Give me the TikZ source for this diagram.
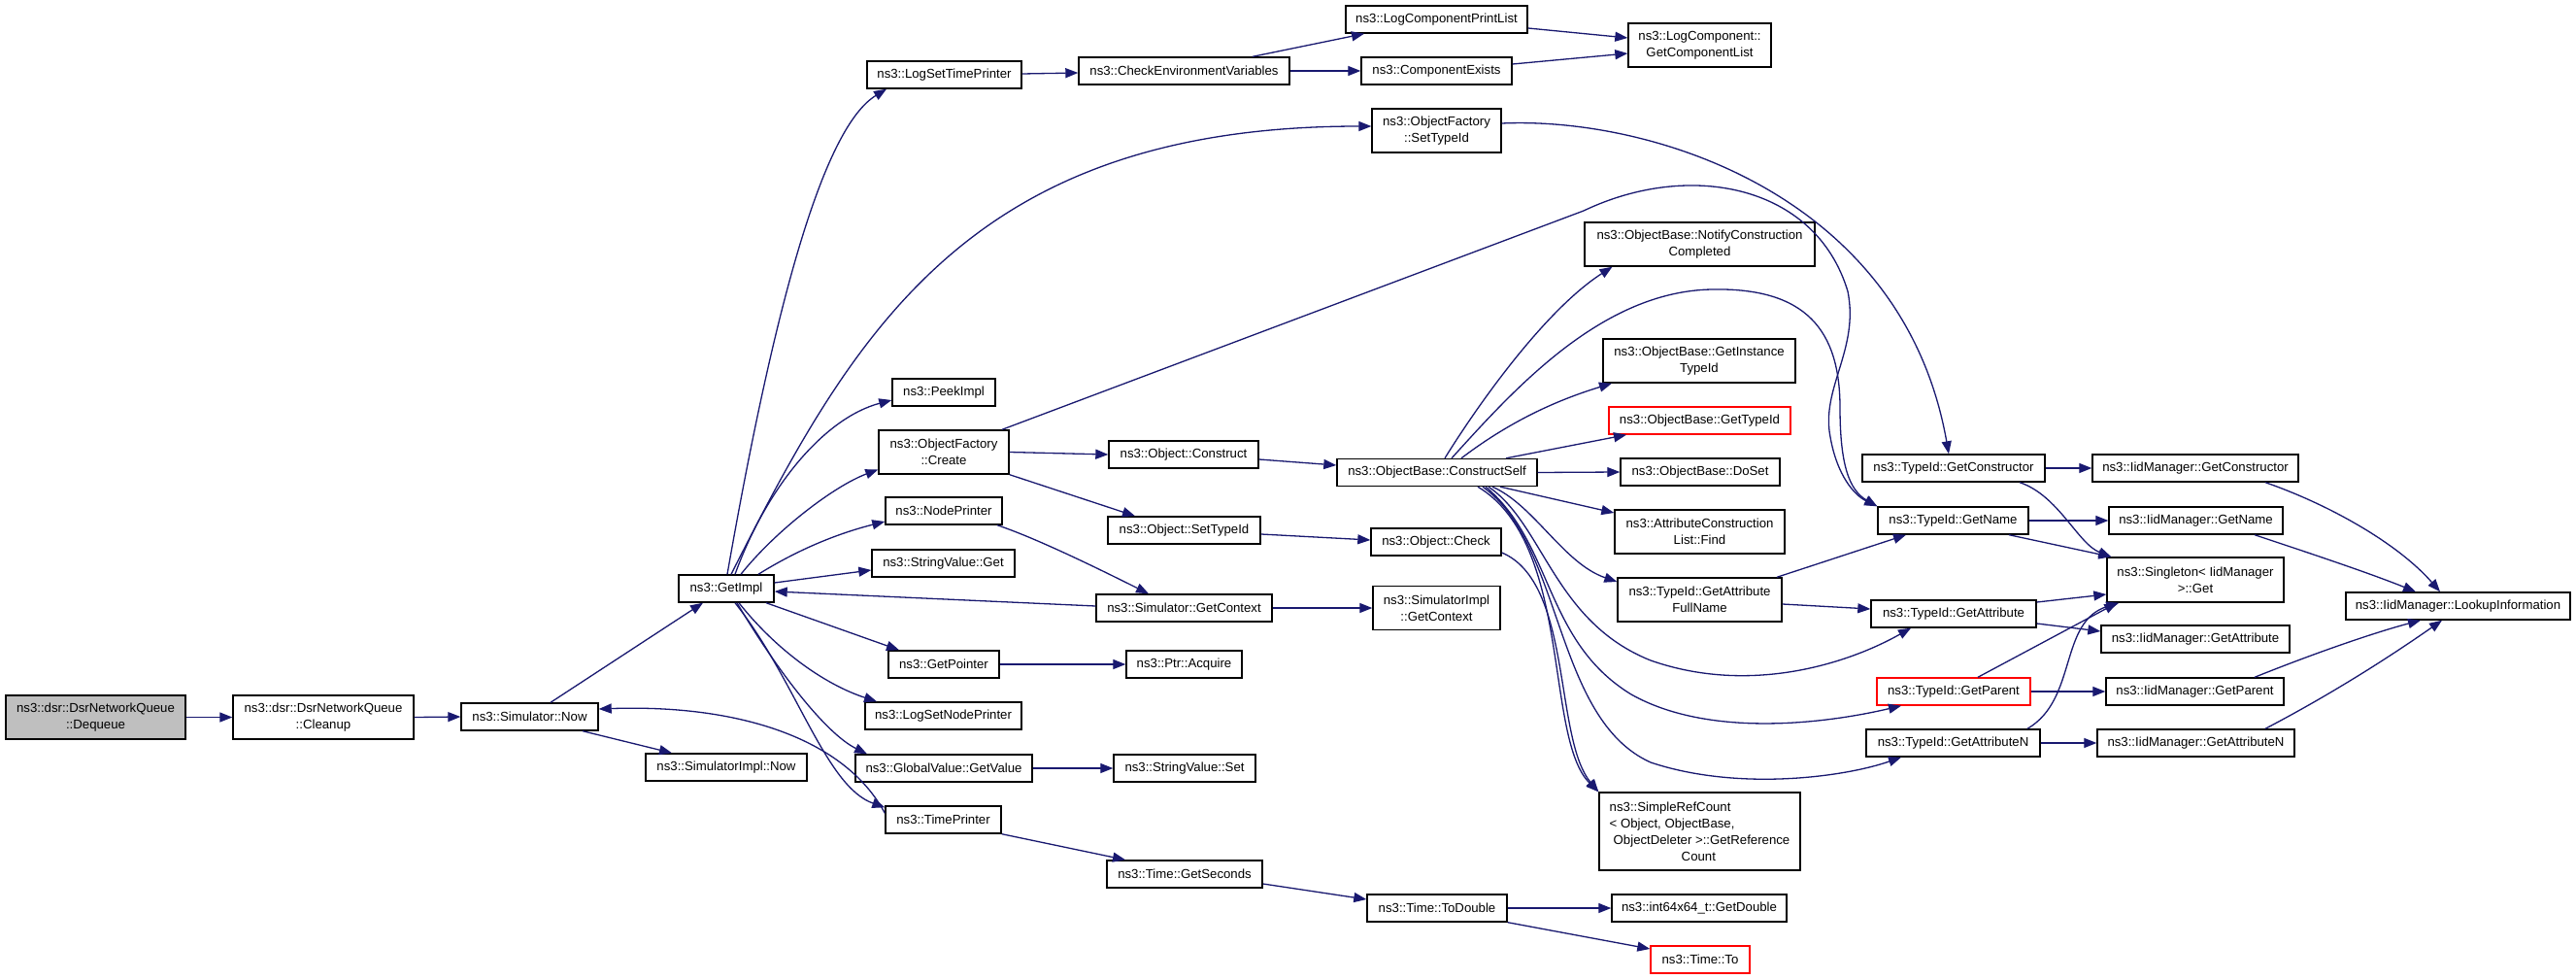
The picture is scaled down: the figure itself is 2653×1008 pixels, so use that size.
\documentclass[tikz,border=0pt]{standalone}
\usepackage{fontspec}
\setmainfont{Liberation Sans}
\usetikzlibrary{arrows.meta}
\definecolor{edgeblue}{HTML}{191970}
\definecolor{nodegray}{HTML}{BFBFBF}
\begin{document}
\begin{tikzpicture}[x=1pt,y=-1pt,
 box/.style={draw=black, line width=1.4pt, fill=white, inner sep=0pt, align=center, font=\fontsize{13.2}{17}\selectfont, minimum height=28pt},
 two/.style={minimum height=45pt},
 redbox/.style={draw=red},
 call/.style={draw=edgeblue, line width=1.3pt, -{Triangle[length=13pt,width=10pt]}},
]
\fill[white] (0,0) rectangle (2653,1008);
\useasboundingbox (0,0) rectangle (2653,1008);

\node[box, fill=nodegray, two, minimum width=185pt] (deq) at (98.5,738.5) {ns3::dsr::DsrNetworkQueue\\::Dequeue};
\node[box, two, minimum width=186pt] (cln) at (333,738.5) {ns3::dsr::DsrNetworkQueue\\::Cleanup};
\node[box, minimum width=141pt] (snow) at (545.5,738) {ns3::Simulator::Now};
\node[box, minimum width=166pt] (sinow) at (748,790) {ns3::SimulatorImpl::Now};
\node[box, minimum width=98pt] (gimpl) at (748,606) {ns3::GetImpl};
\node[box, minimum width=159pt] (lstp) at (972.5,77) {ns3::LogSetTimePrinter};
\node[box, minimum width=217pt] (cev) at (1219.5,73) {ns3::CheckEnvironmentVariables};
\node[box, minimum width=187pt] (lcpl) at (1479.5,20) {ns3::LogComponentPrintList};
\node[box, minimum width=155pt] (cex) at (1479.5,73) {ns3::ComponentExists};
\node[box, two, minimum width=147pt] (lcgcl) at (1750.5,46.5) {ns3::LogComponent::\\GetComponentList};
\node[box, two, minimum width=133pt] (ofst) at (1479.5,134.5) {ns3::ObjectFactory\\::SetTypeId};
\node[box, two, minimum width=237pt] (obncc) at (1750.5,251.5) {ns3::ObjectBase::NotifyConstruction\\Completed};
\node[box, minimum width=106pt] (peek) at (972,404) {ns3::PeekImpl};
\node[box, two, minimum width=134pt] (ofc) at (972,465.5) {ns3::ObjectFactory\\::Create};
\node[box, minimum width=154pt] (oc) at (1219,468) {ns3::Object::Construct};
\node[box, minimum width=206pt] (ocs) at (1480,486.5) {ns3::ObjectBase::ConstructSelf};
\node[box, two, minimum width=198pt] (ogit) at (1750,371.5) {ns3::ObjectBase::GetInstance\\TypeId};
\node[box, redbox, minimum width=187pt] (ogt) at (1750.5,433) {ns3::ObjectBase::GetTypeId};
\node[box, minimum width=164pt] (ods) at (1751,486) {ns3::ObjectBase::DoSet};
\node[box, two, minimum width=175pt] (acl) at (1750.5,547.5) {ns3::AttributeConstruction\\List::Find};
\node[box, two, minimum width=169pt] (tgafn) at (1750.5,617.5) {ns3::TypeId::GetAttribute\\FullName};
\node[box, minimum width=120pt] (np) at (972,526) {ns3::NodePrinter};
\node[box, minimum width=157pt] (ost) at (1219.5,546) {ns3::Object::SetTypeId};
\node[box, minimum width=134pt] (ochk) at (1479,558) {ns3::Object::Check};
\node[box, minimum width=147pt] (svg) at (971.5,580) {ns3::StringValue::Get};
\node[box, minimum width=181pt] (sgc) at (1219.5,626) {ns3::Simulator::GetContext};
\node[box, two, minimum width=131pt] (sigc) at (1479.5,626) {ns3::SimulatorImpl\\::GetContext};
\node[box, minimum width=114pt] (gptr) at (972,684) {ns3::GetPointer};
\node[box, minimum width=119pt] (pacq) at (1219.5,684) {ns3::Ptr::Acquire};
\node[box, minimum width=161pt] (lsnp) at (971.5,737) {ns3::LogSetNodePrinter};
\node[box, minimum width=182pt] (gvgv) at (972,791) {ns3::GlobalValue::GetValue};
\node[box, minimum width=146pt] (svs) at (1220,791) {ns3::StringValue::Set};
\node[box, minimum width=119pt] (tp) at (971.5,844) {ns3::TimePrinter};
\node[box, minimum width=160pt] (tgs) at (1220,900) {ns3::Time::GetSeconds};
\node[box, minimum width=144pt] (ttd) at (1480,935) {ns3::Time::ToDouble};
\node[box, minimum width=180pt] (igd) at (1750,935) {ns3::int64x64\_t::GetDouble};
\node[box, redbox, minimum width=102pt] (tto) at (1751,988) {ns3::Time::To};
\node[box, align=left, minimum width=207pt, minimum height=80pt] (src) at (1750.5,856) {ns3::SimpleRefCount\\< Object, ObjectBase,\\\hspace*{4pt}ObjectDeleter >::GetReference\\\hspace*{74pt}Count};
\node[box, minimum width=188pt] (tgc) at (2012,482) {ns3::TypeId::GetConstructor};
\node[box, minimum width=212pt] (igc) at (2261,482) {ns3::IidManager::GetConstructor};
\node[box, minimum width=155pt] (tgn) at (2011.5,536) {ns3::TypeId::GetName};
\node[box, minimum width=179pt] (ign) at (2261.5,536) {ns3::IidManager::GetName};
\node[box, two, minimum width=182pt, minimum height=46pt] (sing) at (2261,597) {ns3::Singleton< IidManager\\ >::Get};
\node[box, minimum width=170pt] (tga) at (2012,632) {ns3::TypeId::GetAttribute};
\node[box, minimum width=194pt] (iga) at (2261,658) {ns3::IidManager::GetAttribute};
\node[box, redbox, minimum width=158pt] (tgp) at (2012,712) {ns3::TypeId::GetParent};
\node[box, minimum width=183pt] (igp) at (2260.5,712) {ns3::IidManager::GetParent};
\node[box, minimum width=179pt] (tgan) at (2011.5,765) {ns3::TypeId::GetAttributeN};
\node[box, minimum width=203pt] (igan) at (2261.5,765) {ns3::IidManager::GetAttributeN};
\node[box, minimum width=231pt] (ili) at (2531.5,624) {ns3::IidManager::LookupInformation};

\draw[call] (deq.east) -- (cln.west);
\draw[call] (cln.east) -- (snow.west);
\draw[call] ([xshift=21.5pt]snow.north) -- ([xshift=-24pt]gimpl.south);
\draw[call] ([xshift=54.5pt]snow.south) -- ([xshift=-56pt]sinow.north);
\draw[call] ([xshift=1pt]gimpl.north) .. controls (800,300) and (850,130) .. ([xshift=-59.5pt]lstp.south);
\draw[call] ([xshift=5pt]gimpl.north) .. controls (880,340) and (1000,130) .. ([yshift=4.5pt]ofst.west);
\draw[call] ([xshift=9pt]gimpl.north) .. controls (790,500) and (850,430) .. ([yshift=-8pt]peek.west);
\draw[call] ([xshift=15pt]gimpl.north) .. controls (800,545) and (860,500) .. ([yshift=-18pt]ofc.west);
\draw[call] ([xshift=33pt]gimpl.north) .. controls (820,567) and (860,550) .. ([yshift=-11pt]np.west);
\draw[call] ([yshift=6pt]gimpl.east) -- ([yshift=-7pt]svg.west);
\draw[call] ([yshift=2pt]sgc.west) -- ([yshift=-3pt]gimpl.east);
\draw[call] ([xshift=41pt]gimpl.south) -- ([xshift=-46pt]gptr.north);
\draw[call] ([xshift=13pt]gimpl.south) .. controls (800,670) and (850,705) .. ([xshift=-68.5pt]lsnp.north);
\draw[call] ([xshift=11pt]gimpl.south) .. controls (800,690) and (850,755) .. ([xshift=-79pt]gvgv.north);
\draw[call] ([xshift=9pt]gimpl.south) .. controls (820,700) and (850,810) .. ([yshift=-2pt]tp.north west);
\draw[call] ([yshift=-8pt]tp.north west) .. controls (870,760) and (760,725) .. ([yshift=8pt]snow.east);

\draw[call] ([yshift=1pt]lstp.east) -- ([yshift=-2pt]cev.west);
\draw[call] ([xshift=70.5pt]cev.north) -- ([xshift=-74.5pt]lcpl.south);
\draw[call] (cev.east) -- (cex.west);
\draw[call] ([yshift=-9pt]lcpl.east) -- ([yshift=7.5pt]lcgcl.west);
\draw[call] ([yshift=7pt]cex.east) -- ([yshift=-8.5pt]lcgcl.west);
\draw[call] ([yshift=7.5pt]ofst.east) .. controls (1700,120) and (1960,200) .. ([xshift=-5pt]tgc.north);
\draw[call] ([xshift=60pt]ofc.north) -- (1631,217) .. controls (1740,165) and (1870,190) .. (1903,300) .. controls (1915,360) and (1875,400) .. (1885,450) .. controls (1892,490) and (1910,510) .. (tgn.north west);
\draw[call] ([xshift=15pt]ocs.north) .. controls (1560,400) and (1650,300) .. (1763,298) .. controls (1860,296) and (1895,340) .. (1895,420) .. controls (1895,480) and (1905,505) .. (tgn.north west);

\draw[call] (ofc.east) -- (oc.west);
\draw[call] (ofc.south east) -- ([xshift=-50.5pt]ost.north);
\draw[call] ([yshift=-5pt]oc.east) -- ([yshift=7.5pt]ocs.west);
\draw[call] ([xshift=8pt]ocs.north) .. controls (1520,420) and (1590,320) .. ([xshift=-90pt]obncc.south);
\draw[call] ([xshift=25pt]ocs.north) .. controls (1560,430) and (1610,410) .. ([xshift=-90pt]ogit.south);
\draw[call] ([xshift=71pt]ocs.north) -- ([xshift=-75.5pt]ogt.south);
\draw[call] (ocs.east) -- (ods.west);
\draw[call] ([xshift=65pt]ocs.south) -- ([yshift=19.5pt]acl.west);
\draw[call] ([xshift=57pt]ocs.south) .. controls (1580,520) and (1610,580) .. ([yshift=18.5pt]tgafn.west);
\draw[call] ([xshift=53pt]ocs.south) .. controls (1590,540) and (1600,640) .. (1700,680) .. controls (1800,715) and (1900,685) .. ([xshift=-44pt]tga.south);
\draw[call] ([xshift=50pt]ocs.south) .. controls (1600,560) and (1590,660) .. (1680,715) .. controls (1760,760) and (1880,745) .. ([xshift=-54pt]tgp.south);
\draw[call] ([xshift=47pt]ocs.south) .. controls (1610,560) and (1600,740) .. (1700,785) .. controls (1790,815) and (1900,800) .. ([xshift=-53.5pt]tgan.south);
\draw[call] ([xshift=42pt]ocs.south) .. controls (1620,560) and (1590,760) .. (src.north west);
\draw[call] ([yshift=-11pt]ochk.east) .. controls (1620,600) and (1600,760) .. (src.north west);
\draw[call] ([yshift=-4pt]ost.east) -- ([yshift=2pt]ochk.west);
\draw[call] ([xshift=55pt]np.south) .. controls (1070,555) and (1140,590) .. ([xshift=-36.5pt]sgc.north);
\draw[call] (sgc.east) -- (sigc.west);
\draw[call] (gptr.east) -- (pacq.west);
\draw[call] (gvgv.east) -- (svs.west);
\draw[call] (tp.south east) -- ([xshift=-61pt]tgs.north);
\draw[call] ([yshift=-10pt]tgs.east) -- ([yshift=9pt]ttd.west);
\draw[call] (ttd.east) -- (igd.west);
\draw[call] (ttd.south east) -- ([yshift=11pt]tto.west);

\draw[call] (tgc.east) -- (igc.west);
\draw[call] ([xshift=68pt]tgc.south) .. controls (2120,510) and (2140,560) .. ([xshift=5pt]sing.north west);
\draw[call] (tgn.east) -- (ign.west);
\draw[call] ([xshift=57.5pt]tgn.south) -- ([xshift=5pt]sing.north west);
\draw[call] ([xshift=79.5pt]tgafn.north) -- ([xshift=-48.5pt]tgn.south);
\draw[call] ([yshift=-4.5pt]tgafn.east) -- ([yshift=5pt]tga.west);
\draw[call] ([yshift=12pt]tga.east) -- ([yshift=-15pt]sing.west);
\draw[call] ([yshift=-10pt]tga.east) -- ([yshift=8pt]iga.west);
\draw[call] ([xshift=25pt]tgp.north) -- ([xshift=11pt]sing.south west);
\draw[call] (tgp.east) -- (igp.west);
\draw[call] ([xshift=76.5pt]tgan.north) .. controls (2140,720) and (2120,640) .. ([xshift=13pt]sing.south west);
\draw[call] (tgan.east) -- (igan.west);
\draw[call] ([xshift=72pt]igc.south) .. controls (2400,520) and (2470,560) .. ([xshift=-18.5pt]ili.north);
\draw[call] ([xshift=60.5pt]ign.south) .. controls (2380,570) and (2440,590) .. ([xshift=-43.5pt]ili.north);
\draw[call] ([xshift=61.5pt]igp.north) .. controls (2390,670) and (2450,650) .. ([xshift=-38.5pt]ili.south);
\draw[call] ([xshift=71.5pt]igan.north) .. controls (2410,710) and (2470,670) .. ([xshift=-16.5pt]ili.south);
\end{tikzpicture}
\end{document}
